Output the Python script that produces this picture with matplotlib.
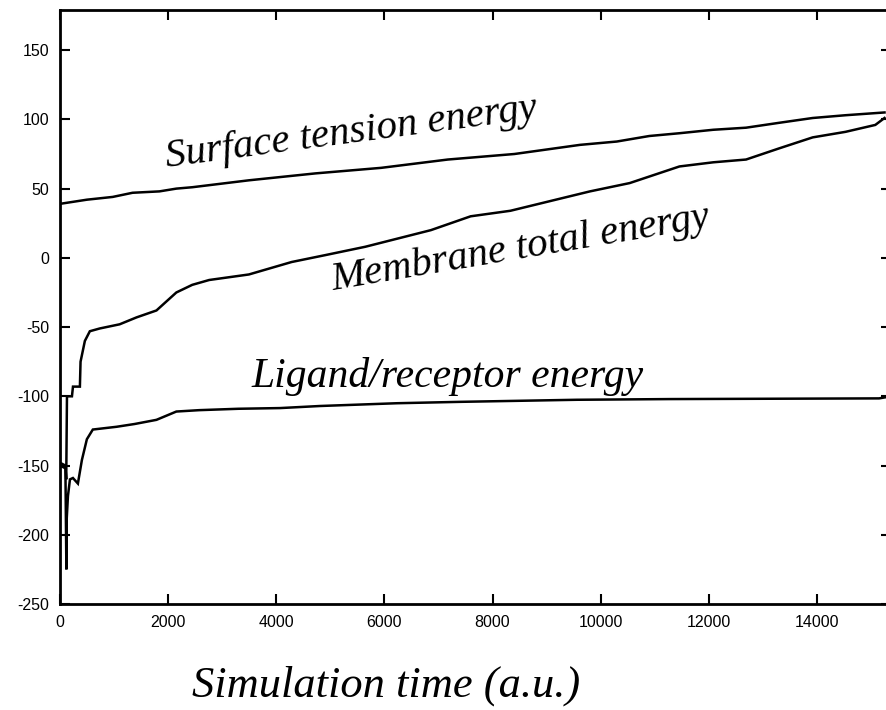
import matplotlib
matplotlib.use("Agg")
import matplotlib.pyplot as plt

# ---- data ----
surface_x = [0, 497, 975, 1342, 1839, 2152, 2446, 3494, 4726, 5940, 7172, 8404, 9618,
             10298, 10900, 11457, 12082, 12689, 13296, 13921, 14528, 15250]
surface_y = [39, 42, 44, 47, 48, 50, 51, 56, 61, 65, 71, 75, 81.6,
             84, 88, 90, 92.5, 94, 97.5, 101, 103, 105]

membrane_x = [0, 100, 115, 129, 221, 240, 368, 380, 460, 552, 736, 1103, 1416, 1784,
              2152, 2446, 2759, 3494, 4285, 4910, 5646, 6859, 7595, 8331, 9066, 9802,
              10537, 11457, 12082, 12689, 13296, 13921, 14528, 15080, 15250]
membrane_y = [-148, -150, -160, -100, -100, -93, -93, -75, -60, -53, -51, -48, -43, -38,
              -25, -19.5, -16, -12, -3, 2, 8, 20, 30, 34, 41, 48,
              54, 66, 69, 71, 79, 87, 91, 96, 101]

ligand_x = [0, 100, 118, 125, 147, 184, 239, 331, 405, 497, 607, 1048, 1380, 1784, 2152,
            2575, 3300, 4069, 4809, 6233, 7398, 9562, 11282, 15150, 15300]
ligand_y = [-150, -152, -225, -188, -172, -160, -159, -163, -146, -131, -124, -122, -120,
            -117, -111, -110, -109, -108.5, -107, -105, -104, -102.5, -102, -101.5, -100.5]

x_ticks = [0, 2000, 4000, 6000, 8000, 10000, 12000, 14000]
x_tick_labels = ["0", "2000", "4000", "6000", "8000", "10000", "12000", "14000"]
y_ticks = [-250, -200, -150, -100, -50, 0, 50, 100, 150]
y_tick_labels = ["-250", "-200", "-150", "-100", "-50", "0", "50", "100", "150"]

label_surface = "Surface tension energy"
label_membrane = "Membrane total energy"
label_ligand = "Ligand/receptor energy"
x_label = "Simulation time (a.u.)"

# ---- figure ----
W, H = 887, 710
fig = plt.figure(figsize=(W / 100, H / 100), dpi=100)
fig.patch.set_facecolor("white")
left_px, right_px, top_px, bottom_px = 60, 891, 10, 604
ax = fig.add_axes([left_px / W, 1 - bottom_px / H,
                   (right_px - left_px) / W, (bottom_px - top_px) / H])

lw = 1.8
for xs, ys in [(surface_x, surface_y), (membrane_x, membrane_y), (ligand_x, ligand_y)]:
    ax.plot(xs, ys, color="black", lw=lw, solid_joinstyle="miter")

ax.set_xlim(0, 15370)
ax.set_ylim(-250, 179)

ax.set_xticks(x_ticks)
ax.set_xticklabels(x_tick_labels)
ax.set_yticks(y_ticks)
ax.set_yticklabels(y_tick_labels)

for lab in ax.get_xticklabels() + ax.get_yticklabels():
    lab.set_fontfamily("Liberation Sans")
    lab.set_fontsize(11.5)

ax.tick_params(direction="in", length=7, width=1.5, top=True, right=True,
               labeltop=False, labelright=False, color="black")
ax.tick_params(axis="x", pad=8)
ax.tick_params(axis="y", pad=8)
for s in ax.spines.values():
    s.set_linewidth(2)
    s.set_color("black")

serif = dict(family="Liberation Serif", style="italic", color="black")
ax.text(1976, 65.5, label_surface, rotation=7.5, rotation_mode="anchor",
        ha="left", va="baseline", size=29.5, **serif)
ax.text(5042, -23.4, label_membrane, rotation=9.5, rotation_mode="anchor",
        ha="left", va="baseline", size=29.5, **serif)
ax.text(3550, -93.5, label_ligand, rotation=0,
        ha="left", va="baseline", size=30, **serif)
fig.text(192 / W, 1 - 697 / H, x_label, ha="left", va="baseline", size=32, **serif)

fig.savefig("out.png", dpi=100, facecolor="white")
